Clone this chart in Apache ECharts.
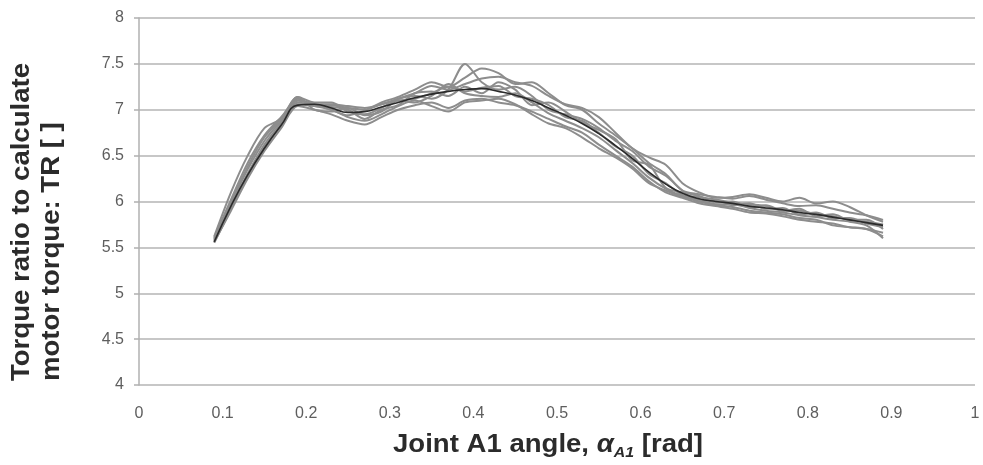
<!DOCTYPE html>
<html lang="en">
<head>
    <meta charset="utf-8">
    <script src="https://cdn.jsdelivr.net/npm/echarts@6/dist/echarts.min.js"></script>
    <title>Torque ratio</title>
    <style>
        html, body { margin: 0; background: #fff; }
        #container { width: 983px; height: 465px; }
    </style>
</head>
<body>
<div id="container"></div>
<script type="text/javascript">
    // joint angle samples [rad]
    const angle = [0.09, 0.11, 0.13, 0.15, 0.17, 0.19, 0.21, 0.23, 0.25, 0.27,
        0.29, 0.31, 0.33, 0.35, 0.37, 0.39, 0.41, 0.43, 0.45, 0.47,
        0.49, 0.51, 0.53, 0.55, 0.57, 0.59, 0.61, 0.63, 0.65, 0.67,
        0.69, 0.71, 0.73, 0.75, 0.77, 0.79, 0.81, 0.83, 0.85, 0.87, 0.89];

    // measured runs (grey)
    const run1 = [5.60, 5.98, 6.35, 6.66, 6.88, 7.10, 7.06, 7.00, 6.94, 6.99, 7.06, 7.10, 7.12, 7.18, 7.25, 7.20, 7.24, 7.26, 7.15, 7.12, 7.05, 6.92, 6.88, 6.75, 6.60, 6.50, 6.30, 6.20, 6.07, 6.05, 6.02, 5.99, 5.97, 5.95, 5.90, 5.90, 5.86, 5.84, 5.80, 5.78, 5.75];
    const run2 = [5.62, 6.10, 6.50, 6.80, 6.90, 7.12, 7.05, 7.05, 7.02, 7.00, 7.08, 7.14, 7.22, 7.30, 7.25, 7.35, 7.45, 7.40, 7.28, 7.30, 7.18, 7.05, 7.00, 6.85, 6.72, 6.58, 6.42, 6.30, 6.12, 6.08, 6.05, 6.03, 6.06, 6.02, 5.98, 5.95, 5.96, 5.92, 5.88, 5.85, 5.80];
    const run3 = [5.56, 5.90, 6.25, 6.55, 6.80, 7.04, 7.00, 6.95, 6.88, 6.84, 6.92, 7.00, 7.05, 7.08, 7.02, 7.10, 7.12, 7.08, 7.05, 6.98, 6.90, 6.82, 6.75, 6.62, 6.50, 6.38, 6.22, 6.10, 6.04, 5.98, 5.95, 5.92, 5.88, 5.87, 5.84, 5.80, 5.78, 5.76, 5.72, 5.70, 5.66];
    const run4 = [5.58, 5.96, 6.30, 6.62, 6.86, 7.14, 7.08, 7.08, 6.98, 6.95, 7.02, 7.12, 7.15, 7.12, 7.22, 7.50, 7.30, 7.22, 7.25, 7.15, 7.00, 6.95, 6.90, 6.80, 6.66, 6.55, 6.38, 6.28, 6.12, 6.00, 6.02, 5.96, 5.98, 5.92, 5.93, 5.86, 5.88, 5.82, 5.82, 5.76, 5.72];
    const run5 = [5.57, 5.94, 6.28, 6.58, 6.84, 7.06, 7.04, 7.03, 7.00, 6.90, 7.00, 7.05, 7.18, 7.20, 7.15, 7.25, 7.18, 7.30, 7.22, 7.05, 7.08, 6.98, 6.86, 6.78, 6.68, 6.45, 6.40, 6.15, 6.10, 6.06, 5.99, 6.00, 5.94, 5.96, 5.90, 5.92, 5.84, 5.86, 5.80, 5.80, 5.70];
    const run6 = [5.59, 5.99, 6.38, 6.70, 6.90, 7.14, 7.00, 6.98, 7.02, 6.94, 6.98, 7.10, 7.08, 7.15, 7.28, 7.18, 7.15, 7.14, 7.18, 7.08, 6.96, 6.88, 6.80, 6.70, 6.56, 6.42, 6.26, 6.14, 6.06, 6.02, 5.97, 5.97, 5.93, 5.90, 5.88, 5.85, 5.83, 5.80, 5.78, 5.74, 5.60];
    const run7 = [5.55, 5.92, 6.30, 6.60, 6.83, 7.08, 7.04, 7.00, 6.92, 6.88, 6.95, 7.04, 7.10, 7.04, 6.98, 7.08, 7.10, 7.12, 7.06, 6.95, 6.85, 6.80, 6.70, 6.58, 6.48, 6.36, 6.20, 6.12, 6.05, 6.00, 5.96, 5.94, 5.90, 5.88, 5.86, 5.82, 5.80, 5.74, 5.72, 5.70, 5.62];
    const run8 = [5.61, 6.02, 6.42, 6.72, 6.92, 7.10, 7.06, 7.06, 7.04, 7.02, 7.06, 7.12, 7.18, 7.26, 7.22, 7.28, 7.34, 7.36, 7.30, 7.26, 7.15, 7.06, 7.02, 6.92, 6.75, 6.58, 6.48, 6.40, 6.20, 6.10, 6.04, 6.05, 6.08, 6.04, 6.00, 6.04, 5.98, 6.00, 5.94, 5.85, 5.78];

    // fitted curve (dark)
    const fit = [5.56, 5.95, 6.29, 6.58, 6.83, 7.05, 7.06, 7.02, 6.97, 6.98, 7.03, 7.08, 7.13, 7.17, 7.20, 7.22, 7.23, 7.20, 7.16, 7.10, 7.02, 6.94, 6.85, 6.74, 6.61, 6.47, 6.32, 6.19, 6.09, 6.03, 6.00, 5.98, 5.95, 5.93, 5.91, 5.88, 5.86, 5.83, 5.80, 5.77, 5.74];

    const runs = [run1, run2, run3, run4, run5, run6, run7, run8];
    const xTicks = [0, 1, 0.1];   // min, max, step
    const yTicks = [4, 8, 0.5];

    const font = 'Liberation Sans, Arial, sans-serif';
    const ink = '#2b2b2b';

    function pairs(values) {
        return angle.map((a, i) => [a, values[i]]);
    }

    const series = runs.map((r, i) => ({
        name: 'run' + (i + 1),
        type: 'line',
        data: pairs(r),
        symbol: 'none',
        smooth: 0.3,
        lineStyle: {color: '#8d8d8d', width: 2},
        silent: true
    }));
    series.push({
        name: 'fit',
        type: 'line',
        data: pairs(fit),
        symbol: 'none',
        smooth: true,
        lineStyle: {color: '#2a2a2a', width: 1.6},
        z: 5
    });

    const chart = echarts.init(document.getElementById('container'), null, {renderer: 'canvas'});
    chart.setOption({
        animation: false,
        backgroundColor: '#fff',
        grid: {left: 139, right: 8, top: 18, bottom: 80},
        xAxis: {
            type: 'value',
            min: xTicks[0],
            max: xTicks[1],
            interval: xTicks[2],
            axisLine: {show: false},
            axisTick: {show: false},
            splitLine: {show: false},
            axisLabel: {color: '#5e5e5e', fontFamily: font, fontSize: 16, margin: 21}
        },
        yAxis: {
            type: 'value',
            min: yTicks[0],
            max: yTicks[1],
            interval: yTicks[2],
            axisLine: {show: true, lineStyle: {color: '#b0b0b0', width: 1.5}},
            axisTick: {show: true, length: 5, lineStyle: {color: '#b0b0b0', width: 1.5}},
            splitLine: {show: true, lineStyle: {color: '#b5b5b5', width: 1.5}},
            axisLabel: {color: '#5e5e5e', fontFamily: font, fontSize: 16, margin: 15}
        },
        graphic: [{
            // y axis title, two lines starting from the bottom
            type: 'text',
            x: 37,
            y: 381,
            rotation: Math.PI / 2,
            scaleX: 1.06,
            style: {
                text: 'Torque ratio to calculate\nmotor torque: TR [ ]',
                fontFamily: font,
                fontSize: 26,
                fontWeight: 'bold',
                fill: ink,
                textAlign: 'left',
                textVerticalAlign: 'middle',
                lineHeight: 30
            }
        }, {
            // x axis title with subscript
            type: 'text',
            x: 548,
            y: 445,
            scaleX: 1.06,
            style: {
                text: 'Joint A1 angle, {a|α}{s|A1} [rad]',
                fontFamily: font,
                fontSize: 26,
                fontWeight: 'bold',
                fill: ink,
                textAlign: 'center',
                textVerticalAlign: 'middle',
                rich: {
                    a: {fontFamily: font, fontSize: 26, fontWeight: 'bold', fontStyle: 'italic', fill: ink, lineHeight: 30},
                    s: {fontFamily: font, fontSize: 15, fontWeight: 'bold', fontStyle: 'italic', fill: ink,
                        verticalAlign: 'bottom', lineHeight: 12}
                }
            }
        }],
        series: series
    });
</script>
</body>
</html>
